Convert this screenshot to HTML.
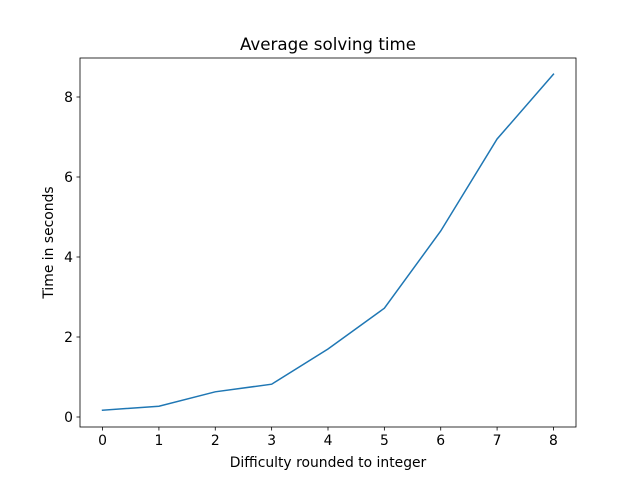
<!DOCTYPE html>
<html><head><meta charset="utf-8"><style>
body{margin:0;background:#fff}
svg text{font-family:"DejaVu Sans","Liberation Sans",sans-serif;fill:#000}
</style></head><body>
<svg width="640" height="480" xmlns="http://www.w3.org/2000/svg">
<rect width="640" height="480" fill="#fff"/>
<g id="g"></g>
</svg>
<script>
const categories=[0,1,2,3,4,5,6,7,8];
const seriesValues=[0.17,0.27,0.63,0.82,1.7,2.72,4.65,6.95,8.57];
const xTicks=[0,1,2,3,4,5,6,7,8];
const yTicks=[0,2,4,6,8];
const L=80,R=576,T=58,B=427;
const xmin=-0.4,xmax=8.4;
const ymin=-0.25,ymax=8.975;
const xs=v=>L+(v-xmin)/(xmax-xmin)*(R-L);
const ys=v=>B-(v-ymin)/(ymax-ymin)*(B-T);
const g=document.getElementById('g');
const NS='http://www.w3.org/2000/svg';
function mk(t,a,txt){const e=document.createElementNS(NS,t);for(const k in a)e.setAttribute(k,a[k]);if(txt!==undefined)e.textContent=txt;g.appendChild(e);return e;}
let pts=categories.map((c,i)=>xs(c)+','+ys(seriesValues[i])).join(' ');
let line=mk('polyline',{points:pts,fill:'none',stroke:'#1f77b4','stroke-width':1.5,'stroke-linecap':'square'});


xTicks.forEach(t=>{const x=xs(t);
let l=mk('line',{x1:x,x2:x,y1:B,y2:B+3.5,stroke:'#000','stroke-width':0.8});

let tx=mk('text',{x:x,y:B+18,'text-anchor':'middle','font-size':13.9},t);
});
yTicks.forEach(t=>{const y=ys(t);
let l=mk('line',{x1:L-3.5,x2:L,y1:y,y2:y,stroke:'#000','stroke-width':0.8});

let tx=mk('text',{x:L-7,y:y+5,'text-anchor':'end','font-size':13.9},t);
});
let fr=mk('rect',{x:L,y:T,width:R-L,height:B-T,fill:'none',stroke:'#000','stroke-width':0.8});

let ti=mk('text',{x:(L+R)/2,y:T-8,'text-anchor':'middle','font-size':16.7},'Average solving time');

let xl=mk('text',{x:(L+R)/2,y:467,'text-anchor':'middle','font-size':13.9},'Difficulty rounded to integer');

let yl=mk('text',{x:0,y:0,'text-anchor':'middle','font-size':13.9,transform:'translate(53,'+((T+B)/2)+') rotate(-90)'},'Time in seconds');

</script>
</body></html>
